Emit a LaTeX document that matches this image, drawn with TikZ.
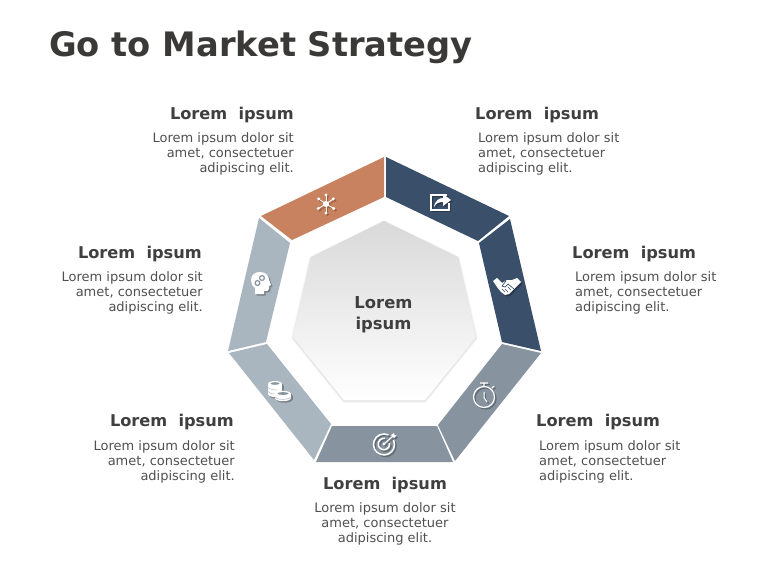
\documentclass[tikz,border=0pt]{standalone}
\usepackage{fontspec}
\setmainfont{DejaVu Sans}
\usetikzlibrary{calc}
\definecolor{ttl}{HTML}{3B3838}
\definecolor{hd}{HTML}{3F3F3F}
\definecolor{bd}{HTML}{505050}
\definecolor{orange1}{HTML}{C98260}
\definecolor{navy1}{HTML}{3A4F69}
\definecolor{gray1}{HTML}{87939F}
\definecolor{gray2}{HTML}{A9B5BF}
\colorlet{sho}{orange1!75!black}
\colorlet{shn}{navy1!70!black}
\colorlet{shg}{gray1!72!black}
\colorlet{shl}{gray2!72!black}
\tikzset{
  x=1pt,y=-1pt,
  title/.style={font=\bfseries\fontsize{33.7}{38}\selectfont,text=ttl,anchor=base west,inner sep=0},
  head/.style={font=\bfseries\fontsize{16.2}{20}\selectfont,text=hd,inner sep=0},
  body/.style={font=\fontsize{13}{15.4}\selectfont,text=bd,inner sep=0},
}
\begin{document}
\begin{tikzpicture}
\useasboundingbox (0,0) rectangle (768,576);
\fill[white] (0,0) rectangle (768,576);
\node[title] (t) at (49,56) {Go to Market Strategy};

% segments
\fill[orange1] (384,157) -- (261,216) -- (292,240) -- (384,197) -- cycle;
\fill[navy1] (386,157) -- (509,216) -- (478,241) -- (386,197) -- cycle;
\fill[navy1] (510,219) -- (541,351) -- (502,342) -- (479,243) -- cycle;
\fill[gray1] (541,353) -- (455,461) -- (438,425) -- (502,344) -- cycle;
\fill[gray1] (453,462) -- (316,462) -- (332,426) -- (437,426) -- cycle;
\fill[gray2] (314,460) -- (229,353) -- (267,344) -- (331,424) -- cycle;
\fill[gray2] (228,351) -- (259,218) -- (290,243) -- (266,342) -- cycle;

% centre heptagon
\foreach \w/\o in {4/.02,2.5/.03,1.2/.05}{
\draw[black,opacity=\o,line width=\w pt,line join=round] (384,222) -- (458,258) -- (476,338) -- (425,401) -- (344,401) -- (293,338) -- (311,258) -- cycle;}
\shade[top color=black!15,bottom color=white] (384,221) -- (458,257) -- (476,337) -- (425,400) -- (344,400) -- (293,337) -- (311,257) -- cycle;
\node[font=\bfseries\fontsize{16.4}{20.6}\selectfont,text=hd,align=center,inner sep=0] (c) at (383.5,315) {Lorem\\ipsum};

% texts
\newcommand{\bl}{Lorem ipsum dolor sit\\amet, consectetuer\\adipiscing elit.}
\node[head,anchor=base east] (h1) at (294,119) {Lorem\ \ ipsum};
\node[body,anchor=north east,align=right] (b1) at (294,132) {\bl};
\node[head,anchor=base west] (h2) at (475,119) {Lorem\ \ ipsum};
\node[body,anchor=north west,align=left] (b2) at (478,132) {\bl};
\node[head,anchor=base west] (h3) at (572,258) {Lorem\ \ ipsum};
\node[body,anchor=north west,align=left] (b3) at (575,271) {\bl};
\node[head,anchor=base west] (h4) at (536,426) {Lorem\ \ ipsum};
\node[body,anchor=north west,align=left] (b4) at (539,440) {\bl};
\node[head,anchor=base] (h5) at (385,489) {Lorem\ \ ipsum};
\node[body,anchor=north,align=center] (b5) at (385,502) {\bl};
\node[head,anchor=base east] (h6) at (234,426) {Lorem\ \ ipsum};
\node[body,anchor=north east,align=right] (b6) at (235,440) {\bl};
\node[head,anchor=base east] (h7) at (202,258) {Lorem\ \ ipsum};
\node[body,anchor=north east,align=right] (b7) at (203,271) {\bl};

% icon: network
\foreach \d/\ic in {1.5/sho,0/white}{
\begin{scope}[shift={(326+\d,204+\d)}]
 \foreach \a in {90,150,215,270,325,30}{
  \draw[\ic,line width=.9pt] (0,0) -- (\a:9);
  \fill[\ic] (\a:9) circle (1.7);}
 \fill[\ic] (0,0) circle (3);
\end{scope}}

% icon: share
\foreach \d/\ic in {1.5/shn,0/white}{
\begin{scope}[shift={(440+\d,202+\d)}]
 \draw[\ic,line width=1.1pt] (7,-7) -- (-9,-7) -- (-9,8) -- (9,8) -- (9,1);
 \fill[\ic] (-6,5) .. controls (-5,-2) and (0,-4) .. (3,-4) -- (3,-8) -- (11,-2) -- (3,4) -- (3,0) .. controls (-1,0) and (-4,1) .. (-6,5) -- cycle;
\end{scope}}

% icon: handshake
\foreach \d/\ic in {1.5/shn,0/white}{
\begin{scope}[shift={(507+\d,286+\d)}]
 \fill[\ic] (-14,-5) -- (-10,-8) -- (-5,-3) -- (0,-6) -- (5,-6) -- (10,-8) -- (14,-4) -- (9,1) -- (2,8) -- (-2,9) -- (-6,6) -- (-10,1) -- cycle;
\end{scope}}
\begin{scope}[shift={(507,286)}]
 \draw[navy1,line width=.7pt] (-1,-5) -- (-5,0) -- (-2,1) -- (1,-2) -- (7,3);
 \draw[navy1,line width=.6pt] (-5,3) -- (-2,6) (-2,3) -- (1,6) (1,1) -- (4,4);
\end{scope}

% icon: stopwatch
\foreach \d/\ic in {1.5/shg,0/white}{
\begin{scope}[shift={(484+\d,395+\d)}]
 \draw[\ic,line width=1.2pt] (0,2) circle (10.5);
 \draw[\ic,line width=1.2pt] (-4,-12) -- (4,-12) (0,-12) -- (0,-8.5) (8,-7) -- (10,-9);
 \draw[\ic,line width=1pt] (0,-3) -- (0,2.5) -- (3,7);
\end{scope}}

% icon: target
\foreach \d/\ic in {1.5/shg,0/white}{
\begin{scope}[shift={(384+\d,444+\d)}]
 \draw[\ic,line width=1.5pt] (9.5,-4) arc (-25:295:10.5);
 \draw[\ic,line width=1.5pt] (5.5,-1) arc (-10:280:5.7);
 \fill[\ic] (0,0) circle (1.6);
 \draw[\ic,line width=1pt] (0,0) -- (9,-8);
 \fill[\ic] (7,-9) -- (10,-11) -- (10.5,-9) -- (12.5,-8.5) -- (10,-6) -- cycle;
\end{scope}}

% icon: coins
\foreach \d/\ic in {1.5/shl,0/white}{
\begin{scope}[shift={(279+\d,391+\d)}]
 \fill[\ic] (-11,-7) rectangle (3,1);
 \foreach \y in {1,-7}{\fill[\ic] (-4,\y) ellipse (7 and 3);}
 \fill[\ic] (-4,3) ellipse (7 and 3);
 \fill[\ic] (-4,3) rectangle (12,7);
 \foreach \y in {7,3}{\fill[\ic] (4,\y) ellipse (8 and 3.2);}
\end{scope}}
\begin{scope}[shift={(279,391)}]
 \fill[gray1] (-4,-7.5) ellipse (4.5 and 1.3);
 \fill[gray1] (4,2.5) ellipse (5.5 and 1.4);
 \draw[gray2,line width=.5pt] (-11,-3.5) .. controls (-8,-1) and (-4,-1) .. (-2,-1.2);
 \draw[gray2,line width=.5pt] (-11,.5) .. controls (-9,2.5) and (-7,3) .. (-5,3);
 \draw[gray2,line width=.5pt] (-4,6.5) .. controls (-1,9) and (9,9) .. (12,6.5);
\end{scope}

% icon: head with gears
\foreach \d/\ic in {1.5/shl,0/white}{
\begin{scope}[shift={(261+\d,283+\d)}]
 \fill[\ic] (-10,-3) .. controls (-10,-9) and (-5,-11) .. (-1,-11)
   .. controls (5,-11) and (8,-7) .. (8,-3) -- (10,2) -- (8,3) -- (8,6)
   .. controls (8,8) and (6,8) .. (3,8) -- (3,11) -- (-6,11) -- (-6,5)
   .. controls (-9,3) and (-10,0) .. (-10,-3) -- cycle;
\end{scope}}
\draw[gray1,line width=1.2pt] (262,278) circle (2.4) (257.5,283) circle (2.4);
\end{tikzpicture}
\end{document}
